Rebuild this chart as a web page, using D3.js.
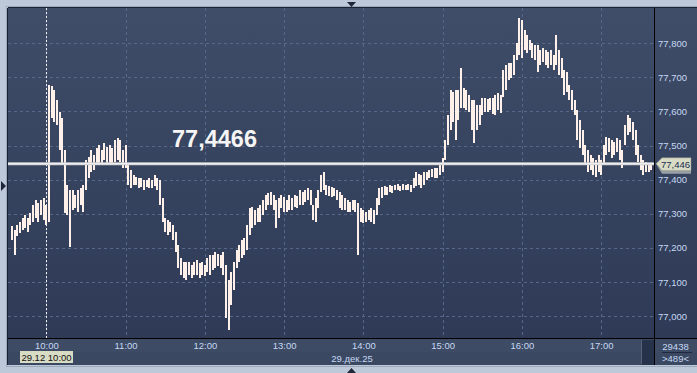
<!DOCTYPE html>
<html>
<head>
<meta charset="utf-8">
<script src="https://cdn.jsdelivr.net/npm/d3@7"></script>
<style>
  html, body { margin: 0; padding: 0; background: #bdc9d8; }
  svg { display: block; font-family: 'Liberation Sans', Arial, sans-serif; }
</style>
</head>
<body>
<div id="chart"></div>
<script>
// 2-minute bars, 29.12.25, from 9:33
var barStart = '2025-12-29T09:33'
var highs = [
  77.265, 77.253, 77.268, 77.277, 77.288, 77.297, 77.288, 77.303, 77.326, 77.341,
  77.332, 77.341, 77.347, 77.326, 77.678, 77.675, 77.663, 77.634, 77.599, 77.581,
  77.487, 77.385, 77.370, 77.370, 77.356, 77.370, 77.376, 77.385, 77.458, 77.467,
  77.487, 77.473, 77.493, 77.502, 77.487, 77.508, 77.496, 77.502, 77.493, 77.517,
  77.523, 77.517, 77.487, 77.502, 77.444, 77.429, 77.414, 77.408, 77.405, 77.405,
  77.400, 77.400, 77.405, 77.400, 77.414, 77.405, 77.400, 77.347, 77.288, 77.282,
  77.277, 77.268, 77.247, 77.209, 77.171, 77.159, 77.159, 77.159, 77.151, 77.159,
  77.165, 77.156, 77.159, 77.151, 77.171, 77.180, 77.180, 77.189, 77.183, 77.180,
  77.189, 77.151, 77.107, 77.130, 77.159, 77.194, 77.209, 77.224, 77.230, 77.268,
  77.318, 77.320, 77.312, 77.318, 77.326, 77.341, 77.356, 77.362, 77.364, 77.356,
  77.341, 77.347, 77.356, 77.350, 77.341, 77.356, 77.347, 77.356, 77.353, 77.370,
  77.364, 77.370, 77.376, 77.370, 77.326, 77.347, 77.370, 77.414, 77.423, 77.385,
  77.382, 77.379, 77.376, 77.370, 77.364, 77.356, 77.347, 77.341, 77.335, 77.341,
  77.341, 77.332, 77.318, 77.312, 77.306, 77.312, 77.318, 77.312, 77.347, 77.376,
  77.379, 77.382, 77.379, 77.385, 77.382, 77.385, 77.388, 77.382, 77.388, 77.385,
  77.388, 77.385, 77.405, 77.423, 77.417, 77.414, 77.423, 77.423, 77.429, 77.432,
  77.435, 77.435, 77.444, 77.464, 77.517, 77.590, 77.663, 77.657, 77.663, 77.663,
  77.728, 77.669, 77.663, 77.649, 77.634, 77.634, 77.619, 77.619, 77.640, 77.640,
  77.637, 77.640, 77.640, 77.649, 77.655, 77.649, 77.722, 77.737, 77.742, 77.742,
  77.766, 77.801, 77.874, 77.868, 77.839, 77.824, 77.810, 77.801, 77.795, 77.795,
  77.780, 77.786, 77.780, 77.775, 77.780, 77.766, 77.824, 77.780, 77.757, 77.722,
  77.716, 77.678, 77.663, 77.634, 77.605, 77.575, 77.546, 77.502, 77.487, 77.473,
  77.464, 77.458, 77.473, 77.458, 77.502, 77.526, 77.523, 77.517, 77.511, 77.523,
  77.517, 77.487, 77.561, 77.590, 77.581, 77.570, 77.546, 77.502, 77.473, 77.458,
  77.452, 77.449, 77.449
]
var lows = [
  77.224, 77.180, 77.236, 77.244, 77.253, 77.259, 77.247, 77.268, 77.277, 77.288,
  77.277, 77.297, 77.282, 77.268, 77.277, 77.581, 77.570, 77.561, 77.487, 77.444,
  77.303, 77.297, 77.203, 77.312, 77.318, 77.306, 77.326, 77.306, 77.370, 77.405,
  77.423, 77.429, 77.444, 77.444, 77.449, 77.458, 77.449, 77.449, 77.444, 77.452,
  77.458, 77.452, 77.435, 77.435, 77.385, 77.376, 77.385, 77.385, 77.376, 77.379,
  77.370, 77.379, 77.376, 77.376, 77.382, 77.370, 77.326, 77.277, 77.247, 77.238,
  77.247, 77.224, 77.189, 77.142, 77.121, 77.112, 77.107, 77.121, 77.112, 77.121,
  77.121, 77.112, 77.121, 77.118, 77.130, 77.121, 77.136, 77.142, 77.148, 77.142,
  77.121, 76.995, 76.960, 77.033, 77.077, 77.142, 77.159, 77.171, 77.180, 77.194,
  77.238, 77.259, 77.268, 77.277, 77.277, 77.297, 77.312, 77.326, 77.326, 77.312,
  77.259, 77.288, 77.318, 77.306, 77.306, 77.312, 77.312, 77.320, 77.318, 77.326,
  77.326, 77.335, 77.341, 77.326, 77.282, 77.277, 77.318, 77.364, 77.370, 77.356,
  77.353, 77.350, 77.353, 77.341, 77.318, 77.312, 77.312, 77.306, 77.306, 77.312,
  77.306, 77.180, 77.277, 77.274, 77.277, 77.282, 77.277, 77.271, 77.297, 77.326,
  77.347, 77.356, 77.356, 77.364, 77.362, 77.370, 77.370, 77.367, 77.370, 77.370,
  77.370, 77.364, 77.376, 77.382, 77.385, 77.376, 77.385, 77.400, 77.405, 77.408,
  77.405, 77.405, 77.414, 77.423, 77.458, 77.502, 77.546, 77.570, 77.517, 77.575,
  77.611, 77.611, 77.605, 77.599, 77.546, 77.508, 77.546, 77.561, 77.590, 77.599,
  77.599, 77.605, 77.593, 77.590, 77.605, 77.596, 77.643, 77.663, 77.693, 77.698,
  77.707, 77.751, 77.766, 77.757, 77.780, 77.772, 77.780, 77.757, 77.751, 77.716,
  77.737, 77.745, 77.737, 77.728, 77.737, 77.722, 77.737, 77.707, 77.698, 77.649,
  77.657, 77.634, 77.605, 77.590, 77.517, 77.493, 77.473, 77.444, 77.423, 77.429,
  77.414, 77.408, 77.423, 77.414, 77.444, 77.473, 77.482, 77.464, 77.473, 77.482,
  77.458, 77.435, 77.502, 77.531, 77.540, 77.517, 77.473, 77.452, 77.429, 77.414,
  77.423, 77.423, 77.429
]
var priceTicks = [77.0, 77.1, 77.2, 77.3, 77.4, 77.5, 77.6, 77.7, 77.8]
var lastPrice = 77.4466
var tagPrice = 77.446
var markerTime = '2025-12-29T10:00'
var dateLabel = '29.дек.25'
var markerLabel = '29.12 10:00'
var counterTop = '29438'
var counterBottom = '>489<'

var W = 697
var H = 373
var plotLeft = 8
var plotTop = 8
var plotRight = 654
var plotBottom = 338
var panelRight = 697
var panelBottom = 365

var ru = d3.formatLocale({ decimal: ',', thousands: ' ', grouping: [3], currency: ['', ''] })
var fmt3 = ru.format('.3f')
var fmt4 = ru.format('.4f')
var parse = d3.timeParse('%Y-%m-%dT%H:%M')

var t0 = parse(barStart)
var times = d3.timeMinute.every(2).range(t0, d3.timeMinute.offset(t0, highs.length * 2))

var x = d3.scaleTime()
  .domain([parse('2025-12-29T09:31'), parse('2025-12-29T17:40')])
  .range([plotLeft, plotRight])
var y = d3.scaleLinear()
  .domain([76.936, 77.9034])
  .range([plotBottom, plotTop])

var svg = d3.select('#chart').append('svg')
  .attr('width', W)
  .attr('height', H)

var defs = svg.append('defs')
var grad = defs.append('linearGradient').attr('id', 'bg').attr('x1', 0).attr('y1', 0).attr('x2', 0).attr('y2', 1)
grad.append('stop').attr('offset', '0%').attr('stop-color', '#3f4d69')
grad.append('stop').attr('offset', '100%').attr('stop-color', '#2e3a56')
defs.append('clipPath').attr('id', 'plotclip').append('rect')
  .attr('x', plotLeft).attr('y', plotTop).attr('width', plotRight - plotLeft).attr('height', plotBottom - plotTop)

// frame
svg.append('rect').attr('x', 0).attr('y', 0).attr('width', W).attr('height', H).attr('fill', '#bdc9d8')
svg.append('rect').attr('x', plotLeft - 1.5).attr('y', plotTop - 1.5).attr('width', panelRight - plotLeft + 3).attr('height', panelBottom - plotTop + 3)
  .attr('fill', 'none').attr('stroke', '#9ba9bd').attr('stroke-width', 1)
svg.append('rect').attr('x', plotLeft).attr('y', plotTop).attr('width', panelRight - plotLeft).attr('height', plotBottom - plotTop)
  .attr('fill', 'url(#bg)')
svg.append('rect').attr('x', plotLeft).attr('y', plotBottom).attr('width', panelRight - plotLeft).attr('height', panelBottom - plotBottom)
  .attr('fill', '#3d4b65')
svg.append('rect').attr('x', plotLeft).attr('y', 352).attr('width', panelRight - plotLeft).attr('height', panelBottom - 352)
  .attr('fill', '#3a4862')
svg.append('line').attr('x1', plotLeft).attr('x2', panelRight).attr('y1', plotTop - 0.5).attr('y2', plotTop - 0.5)
  .attr('stroke', '#1c2231')
svg.append('line').attr('x1', plotLeft - 0.5).attr('x2', plotLeft - 0.5).attr('y1', plotTop).attr('y2', panelBottom)
  .attr('stroke', '#1c2231')

// grid
var grid = svg.append('g').attr('stroke', '#56678a').attr('stroke-dasharray', '3,3').attr('shape-rendering', 'crispEdges')
priceTicks.forEach(function (p) {
  grid.append('line').attr('x1', plotLeft).attr('x2', plotRight)
    .attr('y1', Math.round(y(p)) + 0.5).attr('y2', Math.round(y(p)) + 0.5)
})
x.ticks(d3.timeHour.every(1)).forEach(function (t) {
  grid.append('line').attr('y1', plotTop).attr('y2', plotBottom)
    .attr('x1', Math.round(x(t)) + 0.5).attr('x2', Math.round(x(t)) + 0.5)
})

// marker line at 10:00
var mx = Math.round(x(parse(markerTime))) + 0.5
svg.append('line').attr('x1', mx).attr('x2', mx).attr('y1', plotTop).attr('y2', plotBottom)
  .attr('stroke', '#f2f2f2').attr('stroke-dasharray', '2,2')

// bars
svg.append('g').attr('clip-path', 'url(#plotclip)').attr('shape-rendering', 'crispEdges')
  .selectAll('rect').data(highs).join('rect')
  .attr('x', function (d, i) { return Math.round(x(times[i])) - 1 })
  .attr('width', 2)
  .attr('y', function (d) { return Math.round(y(d)) })
  .attr('height', function (d, i) { return Math.max(1, Math.round(y(lows[i])) - Math.round(y(d))) })
  .attr('fill', '#fff1ea')

// last price line
var ly = y(lastPrice)
svg.append('line').attr('x1', plotLeft).attr('x2', plotRight).attr('y1', ly).attr('y2', ly)
  .attr('stroke', '#c9c9cc').attr('stroke-width', 3)
svg.append('line').attr('x1', plotLeft).attr('x2', plotRight).attr('y1', ly).attr('y2', ly)
  .attr('stroke', '#ffffff').attr('stroke-width', 1)
svg.append('text').attr('x', 172).attr('y', 147)
  .attr('font-size', '23.5px').attr('font-weight', 'bold').attr('fill', '#f5f5f5')
  .text(fmt4(lastPrice))

// axis separators
svg.append('line').attr('x1', plotRight + 0.5).attr('x2', plotRight + 0.5).attr('y1', plotTop).attr('y2', panelBottom)
  .attr('stroke', '#000')
svg.append('line').attr('x1', plotLeft).attr('x2', panelRight).attr('y1', plotBottom + 0.5).attr('y2', plotBottom + 0.5)
  .attr('stroke', '#000')

// y axis
var yAxis = svg.append('g').attr('transform', 'translate(' + (plotRight + 2) + ',0)')
  .call(d3.axisRight(y).tickValues(priceTicks).tickFormat(fmt3).tickSize(0).tickPadding(2))
yAxis.select('.domain').remove()
yAxis.selectAll('text').attr('fill', '#c6d8f3').attr('font-size', '9.5px')
  .attr('font-family', "'Liberation Sans', Arial, sans-serif")

// price tag
var tag = svg.append('g')
tag.append('path')
  .attr('d', 'M657,' + (ly + 2) + ' L662,' + (ly + 7) + ' L691,' + (ly + 7) + ' L691,' + (ly + 10) + ' L662,' + (ly + 10) + ' Z')
  .attr('fill', '#9aa0a6')
tag.append('path')
  .attr('d', 'M656,' + ly + ' L662,' + (ly - 6) + ' L691,' + (ly - 6) + ' L691,' + (ly + 7) + ' L662,' + (ly + 7) + ' Z')
  .attr('fill', '#d9dcc4').attr('stroke', '#8e9488').attr('stroke-width', 0.5)
tag.append('text').attr('x', 661).attr('y', ly + 4)
  .attr('font-size', '9.5px').attr('fill', '#1c2b55')
  .text(fmt3(tagPrice))

// x axis
var xAxis = svg.append('g').attr('transform', 'translate(0,' + (plotBottom + 2) + ')')
  .call(d3.axisBottom(x).ticks(d3.timeHour.every(1)).tickFormat(d3.timeFormat('%H:%M')).tickSize(0).tickPadding(2))
xAxis.select('.domain').remove()
xAxis.selectAll('text').attr('fill', '#c6d8f3').attr('font-size', '9.5px')
  .attr('font-family', "'Liberation Sans', Arial, sans-serif")

svg.append('text').attr('x', 352).attr('y', 361.5).attr('text-anchor', 'middle')
  .attr('font-size', '9.5px').attr('fill', '#c6d8f3').text(dateLabel)

// marker label
svg.append('rect').attr('x', 20).attr('y', 351).attr('width', 53).attr('height', 12).attr('fill', '#d9dcc4')
svg.append('text').attr('x', 46.5).attr('y', 360.5).attr('text-anchor', 'middle')
  .attr('font-size', '9.5px').attr('fill', '#111').text(markerLabel)

// scroller and counters
svg.append('rect').attr('x', 641).attr('y', 340).attr('width', 13).attr('height', 25).attr('fill', '#26314a')
svg.append('line').attr('x1', 641.5).attr('x2', 641.5).attr('y1', 340).attr('y2', 364).attr('stroke', '#56627a')
svg.append('text').attr('x', 675.5).attr('y', 350).attr('text-anchor', 'middle')
  .attr('font-size', '9.5px').attr('fill', '#c6d8f3').text(counterTop)
svg.append('line').attr('x1', 662).attr('x2', 692).attr('y1', 352.5).attr('y2', 352.5).attr('stroke', '#1f2840')
svg.append('text').attr('x', 675.5).attr('y', 362).attr('text-anchor', 'middle')
  .attr('font-size', '9.5px').attr('fill', '#c6d8f3').text(counterBottom)

// little arrows on the frame
svg.append('path').attr('d', 'M347,2 L356,2 L351.5,7 Z').attr('fill', '#1e2638')
svg.append('path').attr('d', 'M347,373 L356,373 L351.5,368 Z').attr('fill', '#1e2638')
svg.append('path').attr('d', 'M1,181 L1,191 L6,186 Z').attr('fill', '#1e2638')
</script>
</body>
</html>
